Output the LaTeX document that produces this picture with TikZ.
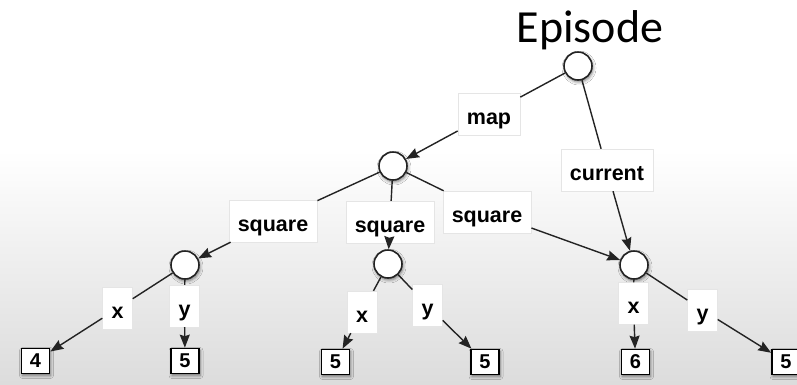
\documentclass[tikz,border=0pt]{standalone}
\usepackage{fontspec}
\setmainfont{Liberation Sans}
\newfontfamily\titlefont{Carlito}
\usetikzlibrary{arrows.meta,shadows.blur}

\definecolor{bgtop}{RGB}{255,255,255}
\definecolor{bgbottom}{RGB}{220,220,220}
\definecolor{inkline}{RGB}{35,35,35}

\begin{document}
\begin{tikzpicture}[x=1pt,y=-1pt,
  softshadow/.style={blur shadow={shadow xshift=1pt, shadow yshift=-2pt,
      shadow blur radius=3pt, shadow opacity=50}},
  bubble/.style={circle, draw=inkline, fill=white, line width=1.6pt,
      minimum size=28pt, inner sep=0pt, softshadow},
  tag/.style={fill=white, draw=black!10, line width=0.4pt,
      font=\bfseries\fontsize{21.5}{24}\selectfont,
      text height=23pt, text depth=3pt, inner xsep=9pt, inner ysep=8pt},
  leaf/.style={draw=black, fill=white, line width=1.7pt,
      minimum width=28pt, minimum height=25pt, inner sep=0pt,
      font=\bfseries\fontsize{20}{22}\selectfont, softshadow},
  link/.style={draw=inkline, line width=1.4pt},
  arr/.style={link, -{Stealth[length=13pt,width=10pt,inset=1.5pt]}},
]
% slide background: white above, soft grey gradient below
\fill[bgtop] (0,0) rectangle (797,150);
\shade[top color=bgtop, bottom color=bgbottom] (0,150) rectangle (797,384);
\useasboundingbox (0,0) rectangle (797,384);

% title
\node[anchor=base, font=\titlefont\fontsize{46}{50}\selectfont] (title) at (590,42) {Episode};

% tree nodes
\node[bubble] (root) at (578,66) {};
\node[bubble] (mid)  at (393,166) {};
\node[bubble] (L)    at (185,265) {};
\node[bubble] (M)    at (388,264) {};
\node[bubble] (R)    at (634,265) {};

% leaves
\node[leaf] (l1) at (35.5,361) {4};
\node[leaf] (l2) at (185,361) {5};
\node[leaf] (l3) at (335.5,362) {5};
\node[leaf] (l4) at (485,362) {5};
\node[leaf] (l5) at (635.5,362) {6};
\node[leaf] (l6) at (786,362) {5};

% edge labels
\node[tag] (tmap) at (489,114) {map};
\node[tag] (tcur) at (607,170) {current};
\node[tag] (tsqL) at (273,221) {square};
\node[tag] (tsqM) at (390,222) {square};
\node[tag] (tsqR) at (487,212) {square};
\node[tag] (txL)  at (117.5,308.5) {x};
\node[tag] (tyL)  at (184.5,306) {y};
\node[tag] (txM)  at (362,312) {x};
\node[tag] (tyM)  at (427.5,305.5) {y};
\node[tag] (txR)  at (633.5,303.5) {x};
\node[tag] (tyR)  at (702.5,310) {y};

% connectors, each broken by its label
\draw[link] (root) -- (tmap);  \draw[arr] (tmap) -- (mid);
\draw[link] (root) -- (tcur);  \draw[arr] (tcur) -- (R);
\draw[link] (mid) -- (tsqL);   \draw[arr] (tsqL) -- (L);
\draw[link] (mid) -- (tsqM);   \draw[arr] (tsqM) -- (M);
\draw[link] (mid) -- (tsqR);   \draw[arr] (tsqR) -- (R);
\draw[link] (L) -- (txL);      \draw[arr] (txL) -- (l1);
\draw[link] (L) -- (tyL);      \draw[arr] (tyL) -- (l2);
\draw[link] (M) -- (txM);      \draw[arr] (txM) -- (l3);
\draw[link] (M) -- (tyM);      \draw[arr] (tyM) -- (l4);
\draw[link] (R) -- (txR);      \draw[arr] (txR) -- (l5);
\draw[link] (R) -- (tyR);      \draw[arr] (tyR) -- (l6);
\end{tikzpicture}
\end{document}
